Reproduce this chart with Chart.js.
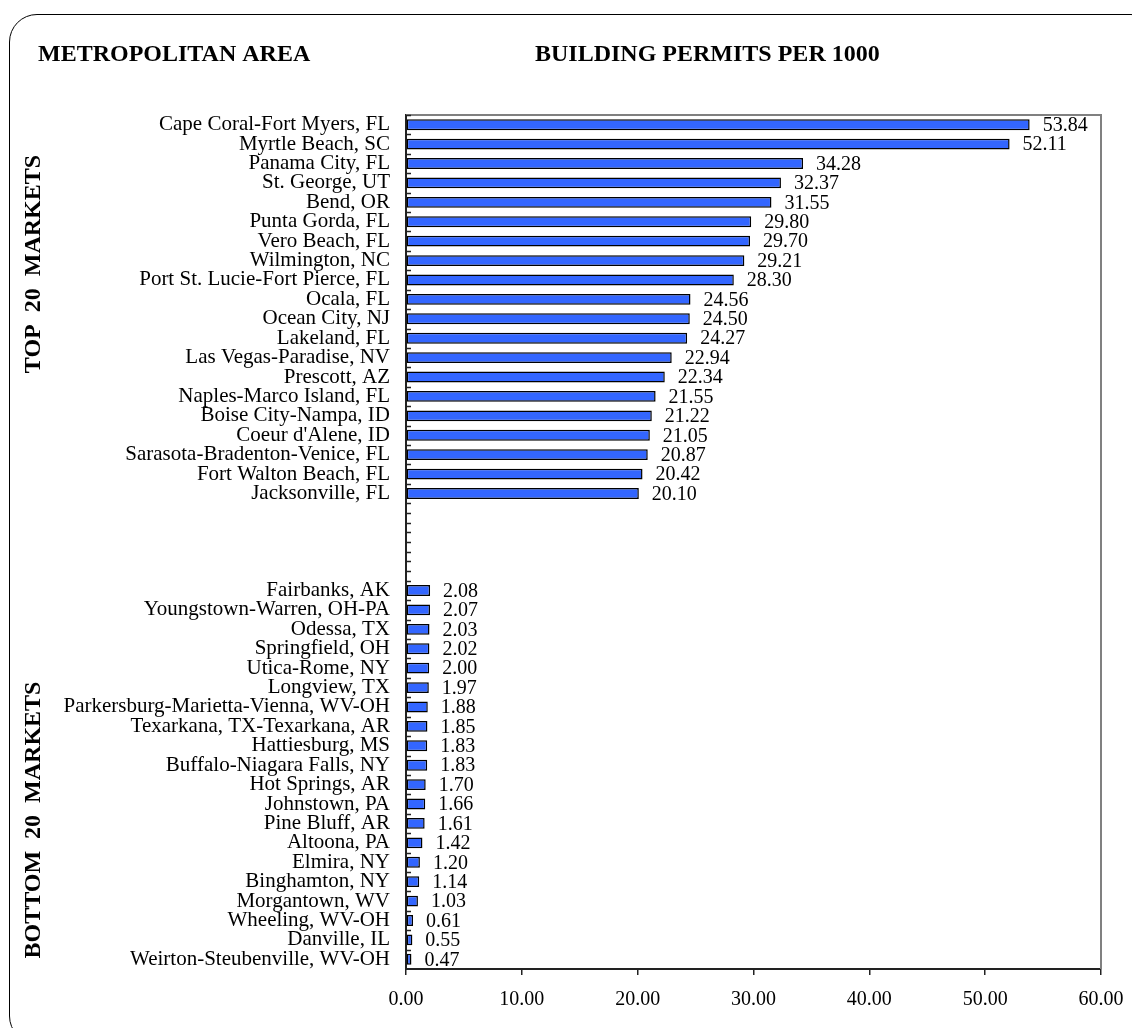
<!DOCTYPE html>
<html>
<head>
<meta charset="utf-8">
<script src="https://cdn.jsdelivr.net/npm/chart.js@4/dist/chart.umd.min.js"></script>
<style>
    body { margin: 0; background: #fff; }
    #wrap { position: relative; width: 1132px; height: 1028px; overflow: hidden; }
    #frame {
        position: absolute; left: 9px; top: 14px; width: 1150px; height: 1030px;
        border: 1.5px solid #000; border-radius: 28px; box-sizing: border-box;
    }
    canvas { position: absolute; left: 0; top: 0; }
</style>
</head>
<body>
<div id="wrap">
    <div id="frame"></div>
    <canvas id="permitChart" width="1132" height="1028"></canvas>
</div>
<script>
const topAreas = [
    "Cape Coral-Fort Myers, FL", "Myrtle Beach, SC", "Panama City, FL", "St. George, UT",
    "Bend, OR", "Punta Gorda, FL", "Vero Beach, FL", "Wilmington, NC",
    "Port St. Lucie-Fort Pierce, FL", "Ocala, FL", "Ocean City, NJ", "Lakeland, FL",
    "Las Vegas-Paradise, NV", "Prescott, AZ", "Naples-Marco Island, FL", "Boise City-Nampa, ID",
    "Coeur d'Alene, ID", "Sarasota-Bradenton-Venice, FL", "Fort Walton Beach, FL", "Jacksonville, FL"
];
const topPermits = [
    53.84, 52.11, 34.28, 32.37, 31.55, 29.80, 29.70, 29.21, 28.30, 24.56,
    24.50, 24.27, 22.94, 22.34, 21.55, 21.22, 21.05, 20.87, 20.42, 20.10
];

const gapRows = ["", "", "", ""];

const bottomAreas = [
    "Fairbanks, AK", "Youngstown-Warren, OH-PA", "Odessa, TX", "Springfield, OH",
    "Utica-Rome, NY", "Longview, TX", "Parkersburg-Marietta-Vienna, WV-OH", "Texarkana, TX-Texarkana, AR",
    "Hattiesburg, MS", "Buffalo-Niagara Falls, NY", "Hot Springs, AR", "Johnstown, PA",
    "Pine Bluff, AR", "Altoona, PA", "Elmira, NY", "Binghamton, NY",
    "Morgantown, WV", "Wheeling, WV-OH", "Danville, IL", "Weirton-Steubenville, WV-OH"
];
const bottomPermits = [
    2.08, 2.07, 2.03, 2.02, 2.00, 1.97, 1.88, 1.85, 1.83, 1.83,
    1.70, 1.66, 1.61, 1.42, 1.20, 1.14, 1.03, 0.61, 0.55, 0.47
];

const xTicks = [0, 10, 20, 30, 40, 50, 60];

const labels = [...topAreas, ...gapRows, ...bottomAreas];
const values = [...topPermits, ...gapRows.map(() => null), ...bottomPermits];

const SERIF = "'Liberation Serif', 'Times New Roman', serif";

// value labels, inner y ticks, gray top/right frame, headings
const decorPlugin = {
    id: "decor",
    afterDatasetsDraw(chart) {
        const ctx = chart.ctx;
        const area = chart.chartArea;
        const yScale = chart.scales.y;

        ctx.save();
        // gray top and right edges of plot
        ctx.strokeStyle = "#808080";
        ctx.lineWidth = 2;
        ctx.beginPath();
        ctx.moveTo(area.left, area.top);
        ctx.lineTo(area.right, area.top);
        ctx.lineTo(area.right, area.bottom);
        ctx.stroke();

        // inner y ticks
        ctx.strokeStyle = "#222";
        ctx.lineWidth = 1.5;
        const half = (yScale.getPixelForValue(1) - yScale.getPixelForValue(0)) / 2;
        labels.forEach((lab, i) => {
            const c = yScale.getPixelForValue(i);
            const marks = [c - half];
            if (lab === "") marks.push(c);
            marks.forEach(p => {
                ctx.beginPath();
                ctx.moveTo(area.left, Math.round(p) + 0.5);
                ctx.lineTo(area.left + 5, Math.round(p) + 0.5);
                ctx.stroke();
            });
        });

        // value labels
        ctx.fillStyle = "#000";
        ctx.font = "20px " + SERIF;
        ctx.textAlign = "left";
        ctx.textBaseline = "middle";
        const meta = chart.getDatasetMeta(0);
        meta.data.forEach((bar, i) => {
            const v = values[i];
            if (v === null) return;
            ctx.fillText(v.toFixed(2), bar.x + 13, bar.y + 1);
        });

        // headings
        ctx.font = "bold 24px " + SERIF;
        ctx.textBaseline = "middle";
        ctx.fillText("METROPOLITAN AREA", 38, 55);
        ctx.fillText("BUILDING PERMITS PER 1000", 535, 55);

        ctx.textAlign = "center";
        const side = [["TOP  20  MARKETS", 264], ["BOTTOM  20  MARKETS", 820]];
        side.forEach(([txt, cy]) => {
            ctx.save();
            ctx.translate(34, cy);
            ctx.rotate(-Math.PI / 2);
            ctx.fillText(txt, 0, 0);
            ctx.restore();
        });
        ctx.restore();
    }
};

new Chart(document.getElementById("permitChart"), {
    type: "bar",
    data: {
        labels: labels,
        datasets: [{
            data: values,
            backgroundColor: "#3366ff",
            borderColor: "#000",
            borderWidth: 1.5,
            borderSkipped: false,
            categoryPercentage: 1,
            barPercentage: 0.56
        }]
    },
    options: {
        indexAxis: "y",
        responsive: false,
        animation: false,
        layout: { padding: { left: 0, right: 31, top: 115, bottom: 0 } },
        plugins: {
            legend: { display: false },
            tooltip: { enabled: false }
        },
        scales: {
            x: {
                min: 0,
                max: 60,
                afterBuildTicks(scale) {
                    scale.ticks = xTicks.map(v => ({ value: v }));
                },
                afterFit(scale) {
                    scale.height = 59;
                    scale.paddingLeft = 0;
                    scale.paddingRight = 0;
                },
                grid: { drawOnChartArea: false, tickLength: 6, color: "#222", lineWidth: 1.5 },
                border: { color: "#222", width: 2 },
                ticks: {
                    color: "#000",
                    padding: 13,
                    font: { family: SERIF, size: 20 },
                    callback: v => Number(v).toFixed(2)
                }
            },
            y: {
                afterFit(scale) { scale.width = 406; },
                grid: { drawOnChartArea: false, drawTicks: false },
                border: { color: "#222", width: 2 },
                ticks: {
                    color: "#000",
                    padding: 16,
                    autoSkip: false,
                    font: { family: SERIF, size: 21 }
                }
            }
        }
    },
    plugins: [decorPlugin]
});
</script>
</body>
</html>
